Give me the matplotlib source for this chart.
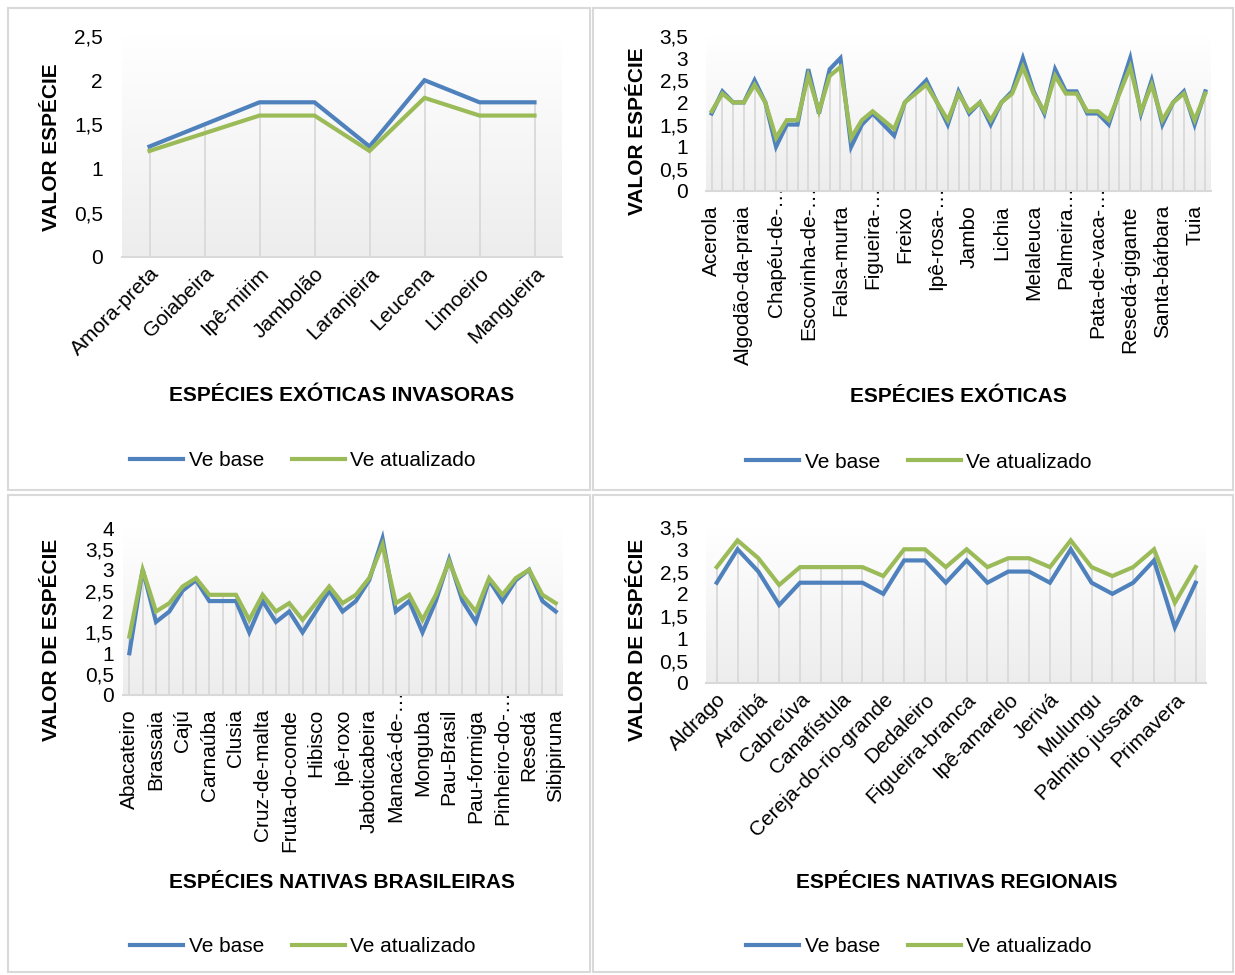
import numpy as np
import matplotlib
matplotlib.use("Agg")
import matplotlib.pyplot as plt
from matplotlib.patches import Rectangle
from matplotlib.ticker import MultipleLocator, FuncFormatter
import matplotlib.transforms as mtransforms

plt.rcParams['font.family'] = ['Liberation Sans', 'DejaVu Sans']

# ---- data -------------------------------------------------------------
inv_labels = ["Amora-preta", "Goiabeira", "Ipê-mirim", "Jambolão",
              "Laranjeira", "Leucena", "Limoeiro", "Mangueira"]
inv_base = [1.25, 1.5, 1.75, 1.75, 1.25, 2.0, 1.75, 1.75]
inv_upd = [1.2, 1.4, 1.6, 1.6, 1.2, 1.8, 1.6, 1.6]

exo_labels = ["Acerola", "Algodão-da-praia", "Chapéu-de-…", "Escovinha-de-…",
              "Falsa-murta", "Figueira-…", "Freixo", "Ipê-rosa-…", "Jambo",
              "Lichia", "Melaleuca", "Palmeira…", "Pata-de-vaca-…",
              "Resedá-gigante", "Santa-bárbara", "Tuia"]
exo_base = [1.75, 2.25, 2.0, 2.0, 2.5, 2.0, 1.0, 1.5, 1.5, 2.75, 1.75, 2.75,
            3.0, 1.0, 1.5, 1.75, 1.5, 1.25, 2.0, 2.25, 2.5, 2.0, 1.5, 2.25,
            1.75, 2.0, 1.5, 2.0, 2.25, 3.0, 2.25, 1.75, 2.75, 2.25, 2.25,
            1.75, 1.75, 1.5, 2.25, 3.0, 1.75, 2.5, 1.5, 2.0, 2.25, 1.5, 2.25]
exo_upd = [1.8, 2.2, 2.0, 2.0, 2.4, 2.0, 1.2, 1.6, 1.6, 2.6, 1.8, 2.6,
           2.8, 1.2, 1.6, 1.8, 1.6, 1.4, 2.0, 2.2, 2.4, 2.0, 1.6, 2.2,
           1.8, 2.0, 1.6, 2.0, 2.2, 2.8, 2.2, 1.8, 2.6, 2.2, 2.2,
           1.8, 1.8, 1.6, 2.2, 2.8, 1.8, 2.4, 1.6, 2.0, 2.2, 1.6, 2.2]

bra_labels = ["Abacateiro", "Brassaia", "Cajú", "Carnaúba", "Clusia",
              "Cruz-de-malta", "Fruta-do-conde", "Hibisco", "Ipê-roxo",
              "Jaboticabeira", "Manacá-de-…", "Monguba", "Pau-Brasil",
              "Pau-formiga", "Pinheiro-do-…", "Resedá", "Sibipiruna"]
bra_base = [1.0, 3.0, 1.75, 2.0, 2.5, 2.75, 2.25, 2.25, 2.25, 1.5, 2.25,
            1.75, 2.0, 1.5, 2.0, 2.5, 2.0, 2.25, 2.75, 3.75, 2.0, 2.25,
            1.5, 2.25, 3.25, 2.25, 1.75, 2.75, 2.25, 2.75, 3.0, 2.25, 2.0]
bra_upd = [1.4, 3.0, 2.0, 2.2, 2.6, 2.8, 2.4, 2.4, 2.4, 1.8, 2.4,
           2.0, 2.2, 1.8, 2.2, 2.6, 2.2, 2.4, 2.8, 3.6, 2.2, 2.4,
           1.8, 2.4, 3.2, 2.4, 2.0, 2.8, 2.4, 2.8, 3.0, 2.4, 2.2]

reg_labels = ["Aldrago", "Araribá", "Cabreúva", "Canafístula",
              "Cereja-do-rio-grande", "Dedaleiro", "Figueira-branca",
              "Ipê-amarelo", "Jerivá", "Mulungu", "Palmito jussara",
              "Primavera"]
reg_base = [2.25, 3.0, 2.5, 1.75, 2.25, 2.25, 2.25, 2.25, 2.0, 2.75, 2.75,
            2.25, 2.75, 2.25, 2.5, 2.5, 2.25, 3.0, 2.25, 2.0, 2.25, 2.75,
            1.25, 2.25]
reg_upd = [2.6, 3.2, 2.8, 2.2, 2.6, 2.6, 2.6, 2.6, 2.4, 3.0, 3.0,
           2.6, 3.0, 2.6, 2.8, 2.8, 2.6, 3.2, 2.6, 2.4, 2.6, 3.0,
           1.8, 2.6]

# ---- style ------------------------------------------------------------
BLUE = "#4F81BD"
GREEN = "#9BBB59"
GRID = "#d9d9d9"
FS = 15
W, H = 1235, 975

fig = plt.figure(figsize=(W / 100, H / 100), dpi=100)
fig.patch.set_facecolor("white")


def px_rect(x0, y0, x1, y1):
    return [x0 / W, 1 - y1 / H, (x1 - x0) / W, (y1 - y0) / H]


# panel frames
for (x0, y0, x1, y1) in [(8, 8, 590, 490), (593, 8, 1233, 490),
                         (8, 495, 590, 972), (593, 495, 1233, 972)]:
    fig.patches.append(Rectangle((x0 / W, 1 - y1 / H), (x1 - x0) / W,
                                 (y1 - y0) / H, transform=fig.transFigure,
                                 fill=False, edgecolor=GRID, linewidth=1.5))

comma_fmt = FuncFormatter(lambda v, p: (f"{v:g}").replace(".", ","))
grad = np.linspace(0, 1, 256).reshape(-1, 1)
bg_cmap = matplotlib.colors.LinearSegmentedColormap.from_list(
    "bg", ["#ffffff", "#ededed"])


def draw_panel(rect, base, upd, labels, step, ymax, ytitle, xtitle,
               ytitle_xy, xtitle_xy, legend_xy, rot, ypad, xpad):
    ax = fig.add_axes(px_rect(*rect))
    n = len(base)
    x = np.arange(n)

    # soft vertical gradient in the plot area (white at top)
    ax.imshow(grad, extent=(-0.5, n - 0.5, 0, ymax), aspect="auto",
              cmap=bg_cmap, zorder=0, interpolation="bilinear",
              origin="upper")
    ax.set_xlim(-0.5, n - 0.5)
    ax.set_ylim(0, ymax)

    # drop lines
    top = np.maximum(base, upd)
    ax.vlines(x, 0, top, colors=GRID, linewidth=1.3, zorder=1)

    ax.plot(x, base, color=BLUE, linewidth=3.0, solid_joinstyle="miter",
            label="Ve base", zorder=3)
    ax.plot(x, upd, color=GREEN, linewidth=3.0, solid_joinstyle="miter",
            label="Ve atualizado", zorder=4)

    for s in ["top", "right", "left"]:
        ax.spines[s].set_visible(False)
    ax.spines["bottom"].set_color(GRID)
    ax.spines["bottom"].set_linewidth(1.5)
    ax.spines["bottom"].set_zorder(5)

    ax.yaxis.set_major_locator(MultipleLocator(0.5))
    ax.yaxis.set_major_formatter(comma_fmt)
    ax.tick_params(axis="y", length=0, pad=ypad, labelsize=FS,
                   labelcolor="black")
    ax.tick_params(axis="x", length=0, pad=xpad, labelsize=FS)

    ticks = list(range(0, n, step))[:len(labels)]
    ax.set_xticks(ticks)
    if rot == 45:
        ax.set_xticklabels(labels, rotation=45, ha="right", va="top",
                           rotation_mode="anchor")
    else:
        ax.set_xticklabels(labels, rotation=90, ha="right", va="center",
                           rotation_mode="anchor")
        # truncated names: the ellipsis sits past the usual label end
        shift = mtransforms.ScaledTranslation(0, 19 / 100,
                                              fig.dpi_scale_trans)
        for t in ax.get_xticklabels():
            if t.get_text().endswith("…"):
                t.set_transform(t.get_transform() + shift)

    fig.text(ytitle_xy[0] / W, 1 - ytitle_xy[1] / H, ytitle,
             rotation=90, ha="center", va="center", fontsize=FS,
             fontweight="bold")
    fig.text(xtitle_xy[0] / W, 1 - xtitle_xy[1] / H, xtitle, ha="center",
             va="center", fontsize=FS, fontweight="bold")
    fig.legend(*ax.get_legend_handles_labels(), loc="center",
               bbox_to_anchor=(legend_xy[0] / W, 1 - legend_xy[1] / H),
               ncol=2, frameon=False, fontsize=FS, handlelength=2.55,
               handletextpad=0.25, columnspacing=1.35, borderpad=0)
    return ax


draw_panel((122, 36, 562, 257), inv_base, inv_upd, inv_labels, 1, 2.5,
           "VALOR ESPÉCIE", "ESPÉCIES EXÓTICAS INVASORAS", (52, 147),
           (342, 396), (303, 461), 45, 19 * 0.72, 5)
draw_panel((706.3, 36, 1210.7, 191), exo_base, exo_upd, exo_labels, 3, 3.5,
           "VALOR ESPÉCIE", "ESPÉCIES EXÓTICAS", (637, 131), (958, 397),
           (919, 462), 90, 18 * 0.72, 10)
draw_panel((122.7, 528, 562.4, 695), bra_base, bra_upd, bra_labels, 2, 4,
           "VALOR DE ESPÉCIE", "ESPÉCIES NATIVAS BRASILEIRAS", (52, 640),
           (342, 882), (303, 947), 90, 9 * 0.72, 10)
draw_panel((706.3, 527, 1206.1, 683), reg_base, reg_upd, reg_labels, 2, 3.5,
           "VALOR DE ESPÉCIE", "ESPÉCIES NATIVAS REGIONAIS", (637, 640),
           (957, 882), (919, 947), 45, 18 * 0.72, 5)

fig.savefig("out.png", dpi=100, facecolor="white")
